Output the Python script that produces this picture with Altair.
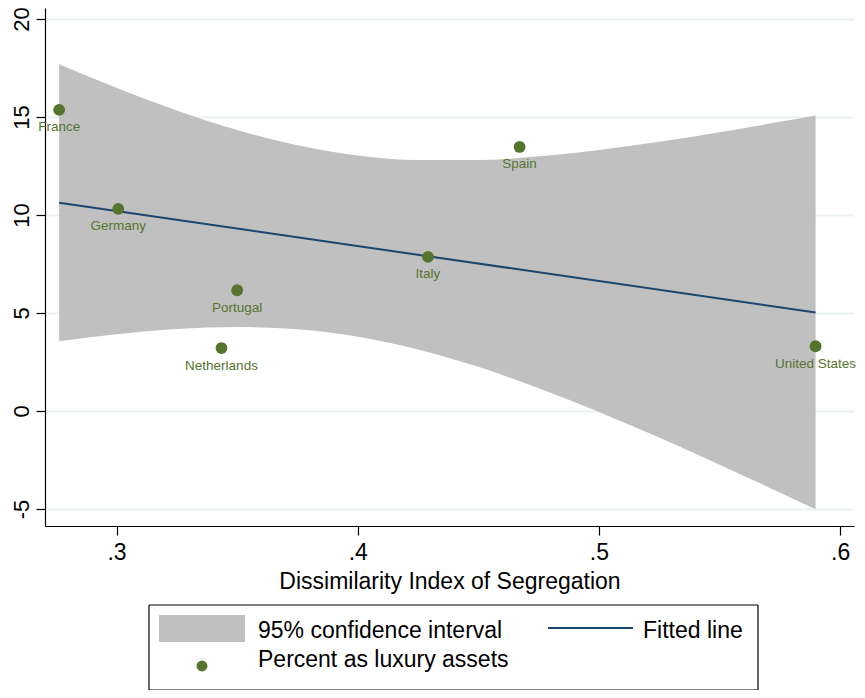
import altair as alt
import pandas as pd

# ---- data ----
countries = ["France", "Germany", "Netherlands", "Portugal", "Italy", "Spain", "United States"]
dissimilarity = [0.2762, 0.3007, 0.3435, 0.3500, 0.4291, 0.4671, 0.5898]
luxury_pct = [15.36, 10.31, 3.21, 6.16, 7.86, 13.47, 3.30]

ci_x = [0.2762, 0.300, 0.325, 0.350, 0.375, 0.400, 0.425, 0.450, 0.475, 0.500, 0.525, 0.550, 0.575, 0.5898]
ci_hi = [17.69, 16.49, 15.33, 14.33, 13.56, 13.04, 12.80, 12.80, 12.99, 13.32, 13.73, 14.22, 14.75, 15.08]
ci_lo = [3.56, 3.91, 4.18, 4.28, 4.17, 3.79, 3.14, 2.25, 1.16, -0.05, -1.36, -2.74, -4.16, -5.02]

x_ticks = [0.3, 0.4, 0.5, 0.6]
y_ticks = [-5, 0, 5, 10, 15, 20]
legend_labels = ["95% confidence interval", "Fitted line", "Percent as luxury assets"]
x_title = "Dissimilarity Index of Segregation"

GRAY = "#c0c0c0"
NAVY = "#1a476f"
GREEN = "#55752f"
FONT = "Liberation Sans"

pts = pd.DataFrame({"country": countries, "x": dissimilarity, "y": luxury_pct})
band = pd.DataFrame({"x": ci_x, "hi": ci_hi, "lo": ci_lo})

xscale = alt.Scale(domain=[0.27033, 0.60574], nice=False, zero=False)
yscale = alt.Scale(domain=[-5.87, 20.56], nice=False, zero=False)

xaxis = alt.Axis(values=x_ticks, labelExpr="substring(format(datum.value, '.1f'), 1)",
                 grid=False, tickSize=9, labelFontSize=23, labelPadding=6,
                 title=x_title, titleFontSize=23, titleFontWeight="normal", titlePadding=6,
                 domainColor="#000000", tickColor="#000000", labelColor="#000000",
                 titleColor="#000000", labelFont=FONT, titleFont=FONT, tickWidth=1.2, domainWidth=1.2)
yaxis = alt.Axis(values=y_ticks, labelExpr="datum.value < 0 ? '-' + abs(datum.value) : '' + datum.value",
                 grid=True, gridColor="#eaf2f3", gridWidth=2, tickSize=9,
                 labelAngle=270, labelAlign="center", labelBaseline="alphabetic",
                 labelFontSize=22, labelPadding=8, title=None,
                 domainColor="#000000", tickColor="#000000", labelColor="#000000",
                 labelFont=FONT, tickWidth=1.2, domainWidth=1.2)

area = alt.Chart(band).mark_area(color=GRAY, opacity=1, interpolate="monotone").encode(
    x=alt.X("x:Q", scale=xscale, axis=xaxis),
    y=alt.Y("hi:Q", scale=yscale, axis=yaxis),
    y2="lo:Q",
)

fit = alt.Chart(pts).transform_regression("x", "y").mark_line(color=NAVY, strokeWidth=2).encode(
    x=alt.X("x:Q", scale=xscale),
    y=alt.Y("y:Q", scale=yscale),
)

dots = alt.Chart(pts).mark_circle(color=GREEN, opacity=1, size=140).encode(
    x=alt.X("x:Q", scale=xscale),
    y=alt.Y("y:Q", scale=yscale),
)

labels = alt.Chart(pts).mark_text(color=GREEN, fontSize=13.5, font=FONT, dy=21.5,
                                  baseline="alphabetic", align="center").encode(
    x=alt.X("x:Q", scale=xscale),
    y=alt.Y("y:Q", scale=yscale),
    text="country:N",
)

# ---- legend (drawn below the plot, in pixel units of the plot area) ----
leg_df = [pd.DataFrame({"label": [l]}) for l in legend_labels]
BL, BR, BT, BB = 104, 713, 597, 682
edge = dict(color="#000000", strokeWidth=1.2)
box_top = alt.Chart(leg_df[0]).mark_rule(**edge).encode(x=alt.value(BL), x2=alt.value(BR), y=alt.value(BT))
box_bot = alt.Chart(leg_df[0]).mark_rule(**edge).encode(x=alt.value(BL), x2=alt.value(BR), y=alt.value(BB))
box_lft = alt.Chart(leg_df[0]).mark_rule(**edge).encode(x=alt.value(BL), y=alt.value(BT), y2=alt.value(BB))
box_rgt = alt.Chart(leg_df[0]).mark_rule(**edge).encode(x=alt.value(BR), y=alt.value(BT), y2=alt.value(BB))

sw_ci = alt.Chart(leg_df[0]).mark_rect(color=GRAY).encode(
    x=alt.value(114), x2=alt.value(200), y=alt.value(607), y2=alt.value(634))
sw_fit = alt.Chart(leg_df[1]).mark_rule(color=NAVY, strokeWidth=2).encode(
    x=alt.value(503), x2=alt.value(588), y=alt.value(620))
sw_pt = alt.Chart(leg_df[2]).mark_circle(color=GREEN, opacity=1, size=120).encode(
    x=alt.value(157), y=alt.value(658))
txt_kw = dict(align="left", baseline="alphabetic", fontSize=23, font=FONT, color="#000000")
t_ci = alt.Chart(leg_df[0]).mark_text(**txt_kw).encode(x=alt.value(213), y=alt.value(630), text="label:N")
t_fit = alt.Chart(leg_df[1]).mark_text(**txt_kw).encode(x=alt.value(598), y=alt.value(630), text="label:N")
t_pt = alt.Chart(leg_df[2]).mark_text(**txt_kw).encode(x=alt.value(213), y=alt.value(659), text="label:N")

chart = alt.layer(area, fit, dots, labels, box_top, box_bot, box_lft, box_rgt,
                  sw_ci, sw_fit, sw_pt, t_ci, t_fit, t_pt).properties(
    width=809, height=518,
    autosize=alt.AutoSizeParams(type="none"),
    padding={"left": 37, "top": 0, "right": 3, "bottom": 164},
    background="#ffffff",
).configure_view(stroke=None)

chart.save("out.html", embed_options={"renderer": "svg", "actions": False})
